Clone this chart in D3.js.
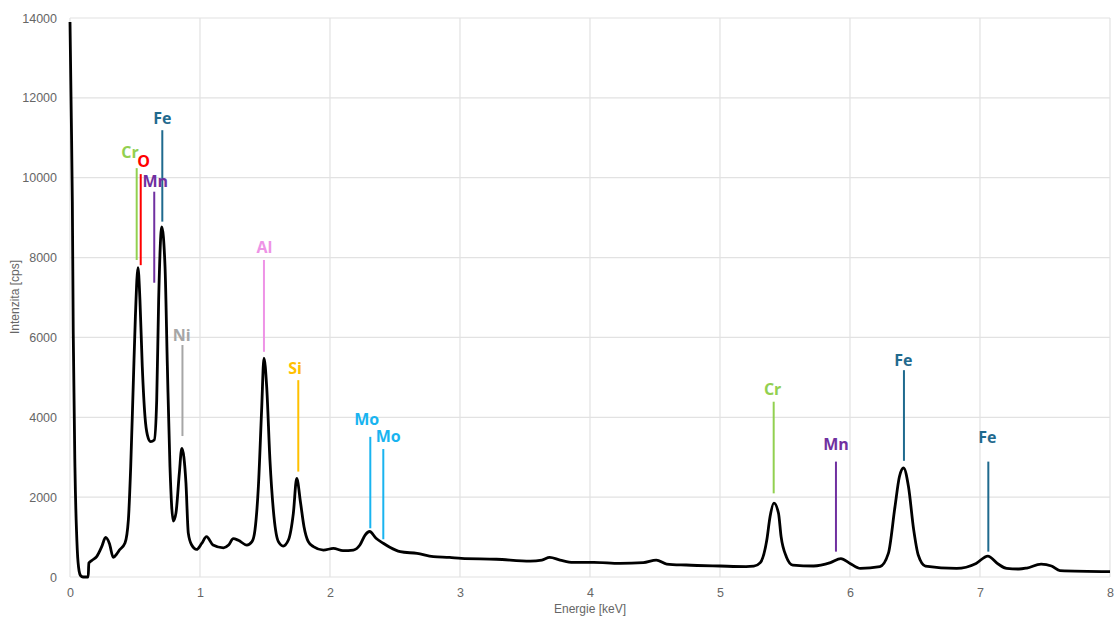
<!DOCTYPE html>
<html>
<head>
<meta charset="utf-8">
<script src="https://cdn.jsdelivr.net/npm/d3@7"></script>
<style>
  body { margin: 0; background: #fff; }
  svg { display: block; }
</style>
</head>
<body>
<svg id="chart" width="1115" height="620"></svg>
<script>
// ---- Data ----
const energy = [
  0.000, 0.010, 0.018, 0.025, 0.038, 0.056, 0.070, 0.082, 0.100, 0.140,
  0.145, 0.170, 0.205, 0.244, 0.274, 0.303, 0.333, 0.360, 0.380, 0.423,
  0.449, 0.467, 0.487, 0.503, 0.523, 0.538, 0.556, 0.577, 0.595, 0.620,
  0.648, 0.667, 0.682, 0.706, 0.731, 0.749, 0.769, 0.795, 0.815, 0.841,
  0.860, 0.892, 0.910, 0.936, 0.974, 1.013, 1.050, 1.100, 1.180, 1.220,
  1.256, 1.295, 1.360, 1.400, 1.423, 1.449, 1.474, 1.492, 1.513, 1.538,
  1.569, 1.603, 1.640, 1.680, 1.718, 1.744, 1.774, 1.800, 1.833, 1.872,
  1.949, 2.026, 2.100, 2.180, 2.230, 2.270, 2.305, 2.354, 2.410, 2.460,
  2.540, 2.670, 2.795, 2.920, 3.010, 3.280, 3.540, 3.630, 3.690, 3.770,
  3.870, 4.030, 4.230, 4.410, 4.510, 4.590, 4.740, 5.000, 5.200, 5.260,
  5.310, 5.360, 5.385, 5.415, 5.450, 5.470, 5.510, 5.560, 5.720, 5.850,
  5.930, 6.000, 6.080, 6.230, 6.295, 6.346, 6.380, 6.412, 6.450, 6.490,
  6.525, 6.580, 6.820, 6.970, 7.060, 7.140, 7.205, 7.300, 7.360, 7.470,
  7.550, 7.615, 8.000
];
const intensity = [
  13900, 11500, 9400, 6100, 2750, 680, 150, 30, 0, 0,
  350, 420, 510, 760, 990, 840, 490, 580, 675, 850,
  1430, 2760, 4860, 6520, 7750, 6940, 5270, 4010, 3560, 3390,
  3430, 4430, 6940, 8770, 7770, 5270, 2760, 1400, 1600, 2600,
  3220, 2350, 1100, 800, 690, 840, 1010, 800, 730, 800,
  960, 920, 800, 885, 1180, 2260, 4180, 5480, 4765, 2930,
  1510, 885, 775, 925, 1595, 2470, 1845, 1260, 885, 760,
  675, 715, 660, 675, 800, 1050, 1140, 970, 845, 745,
  635, 590, 510, 490, 465, 445, 400, 425, 490, 425,
  365, 365, 340, 360, 425, 325, 300, 275, 260, 270,
  360, 925, 1510, 1850, 1595, 1010, 510, 300, 275, 360,
  460, 340, 215, 260, 590, 1760, 2510, 2730, 2260, 1180,
  550, 275, 215, 340, 525, 325, 215, 200, 225, 320,
  275, 160, 135
];

// Element annotations: marker line (energy, top, bottom in cps) and label position
const markerElement = ["Cr", "O", "Mn", "Fe", "Ni", "Al", "Si", "Mo", "Mo", "Cr", "Mn", "Fe", "Fe"];
const markerColor   = ["#92d050", "#ff0000", "#7030a0", "#1f6a8e", "#a6a6a6", "#ee93e6", "#ffc000", "#19b4f0", "#19b4f0", "#92d050", "#7030a0", "#1f6a8e", "#1f6a8e"];
const markerEnergy  = [0.513, 0.544, 0.648, 0.710, 0.865, 1.492, 1.756, 2.310, 2.410, 5.413, 5.892, 6.415, 7.064];
const markerTop     = [10240, 10090, 9650, 11190, 5810, 7940, 4930, 3510, 3205, 4390, 2890, 5180, 2890];
const markerBottom  = [7940, 7810, 7370, 8900, 3530, 5640, 2640, 1220, 945, 2095, 635, 2910, 635];
const labelEnergy   = [0.462, 0.566, 0.656, 0.710, 0.860, 1.495, 1.731, 2.282, 2.448, 5.405, 5.892, 6.410, 7.056];
const labelCps      = [10650, 10420, 9900, 11490, 6060, 8270, 5240, 3950, 3530, 4700, 3320, 5430, 3490];

const xTicks = [0, 1, 2, 3, 4, 5, 6, 7, 8];
const yTicks = [0, 2000, 4000, 6000, 8000, 10000, 12000, 14000];
const xTitle = "Energie [keV]";
const yTitle = "Intenzita [cps]";

// ---- Layout ----
const W = 1115, H = 620;
const margin = { left: 70, right: 5, top: 18, bottom: 43 };
const svg = d3.select("#chart");

const x = d3.scaleLinear().domain([0, 8]).range([margin.left, W - margin.right]);
const y = d3.scaleLinear().domain([0, 14000]).range([H - margin.bottom, margin.top]);

// Grid
const grid = svg.append("g");
grid.selectAll("line.v").data(xTicks).join("line")
  .attr("x1", d => x(d)).attr("x2", d => x(d))
  .attr("y1", y(0)).attr("y2", y(14000))
  .attr("stroke", "#e2e2e2").attr("stroke-width", 1.2);
grid.selectAll("line.h").data(yTicks).join("line")
  .attr("x1", x(0)).attr("x2", x(8))
  .attr("y1", d => y(d)).attr("y2", d => y(d))
  .attr("stroke", "#e2e2e2").attr("stroke-width", 1.2);

const tickFont = "Liberation Sans, Arial, sans-serif";

// Axes (labels only)
const xAxis = svg.append("g")
  .attr("transform", `translate(0,${y(0)})`)
  .call(d3.axisBottom(x).tickValues(xTicks).tickSize(0).tickPadding(11).tickFormat(d3.format("d")));
xAxis.select(".domain").remove();
xAxis.selectAll("text").attr("fill", "#666").style("font-family", tickFont).style("font-size", "12.5px");

const yAxis = svg.append("g")
  .attr("transform", `translate(${x(0)},0)`)
  .call(d3.axisLeft(y).tickValues(yTicks).tickSize(0).tickPadding(13).tickFormat(d3.format("d")));
yAxis.select(".domain").remove();
yAxis.selectAll("text").attr("fill", "#666").style("font-family", tickFont).style("font-size", "12.5px");

// Axis titles
svg.append("text")
  .attr("x", 590).attr("y", 613)
  .attr("text-anchor", "middle")
  .attr("fill", "#666")
  .style("font-family", tickFont).style("font-size", "12px")
  .text(xTitle);
svg.append("text")
  .attr("transform", "translate(19,297) rotate(-90)")
  .attr("text-anchor", "middle")
  .attr("fill", "#666")
  .style("font-family", tickFont).style("font-size", "12px")
  .text(yTitle);

// Spectrum line
const pts = energy.map((e, i) => [e, intensity[i]]);
const line = d3.line().x(d => x(d[0])).y(d => y(d[1])).curve(d3.curveMonotoneX);
svg.append("path")
  .datum(pts)
  .attr("d", line)
  .attr("fill", "none")
  .attr("stroke", "#000")
  .attr("stroke-width", 2.8)
  .attr("stroke-linejoin", "round");

// Annotations
const ann = markerElement.map((el, i) => ({
  el, c: markerColor[i], e: markerEnergy[i], t: markerTop[i], b: markerBottom[i],
  le: labelEnergy[i], lc: labelCps[i]
}));
const ag = svg.append("g");
ag.selectAll("line").data(ann).join("line")
  .attr("x1", d => x(d.e)).attr("x2", d => x(d.e))
  .attr("y1", d => y(d.t)).attr("y2", d => y(d.b))
  .attr("stroke", d => d.c).attr("stroke-width", 2);
ag.selectAll("text").data(ann).join("text")
  .attr("x", d => x(d.le)).attr("y", d => y(d.lc))
  .attr("dy", "0.36em")
  .attr("text-anchor", "middle")
  .attr("fill", d => d.c)
  .style("font-family", "Open Sans, Liberation Sans, sans-serif")
  .style("font-weight", "700")
  .style("font-size", "16px")
  .text(d => d.el);
</script>
</body>
</html>
